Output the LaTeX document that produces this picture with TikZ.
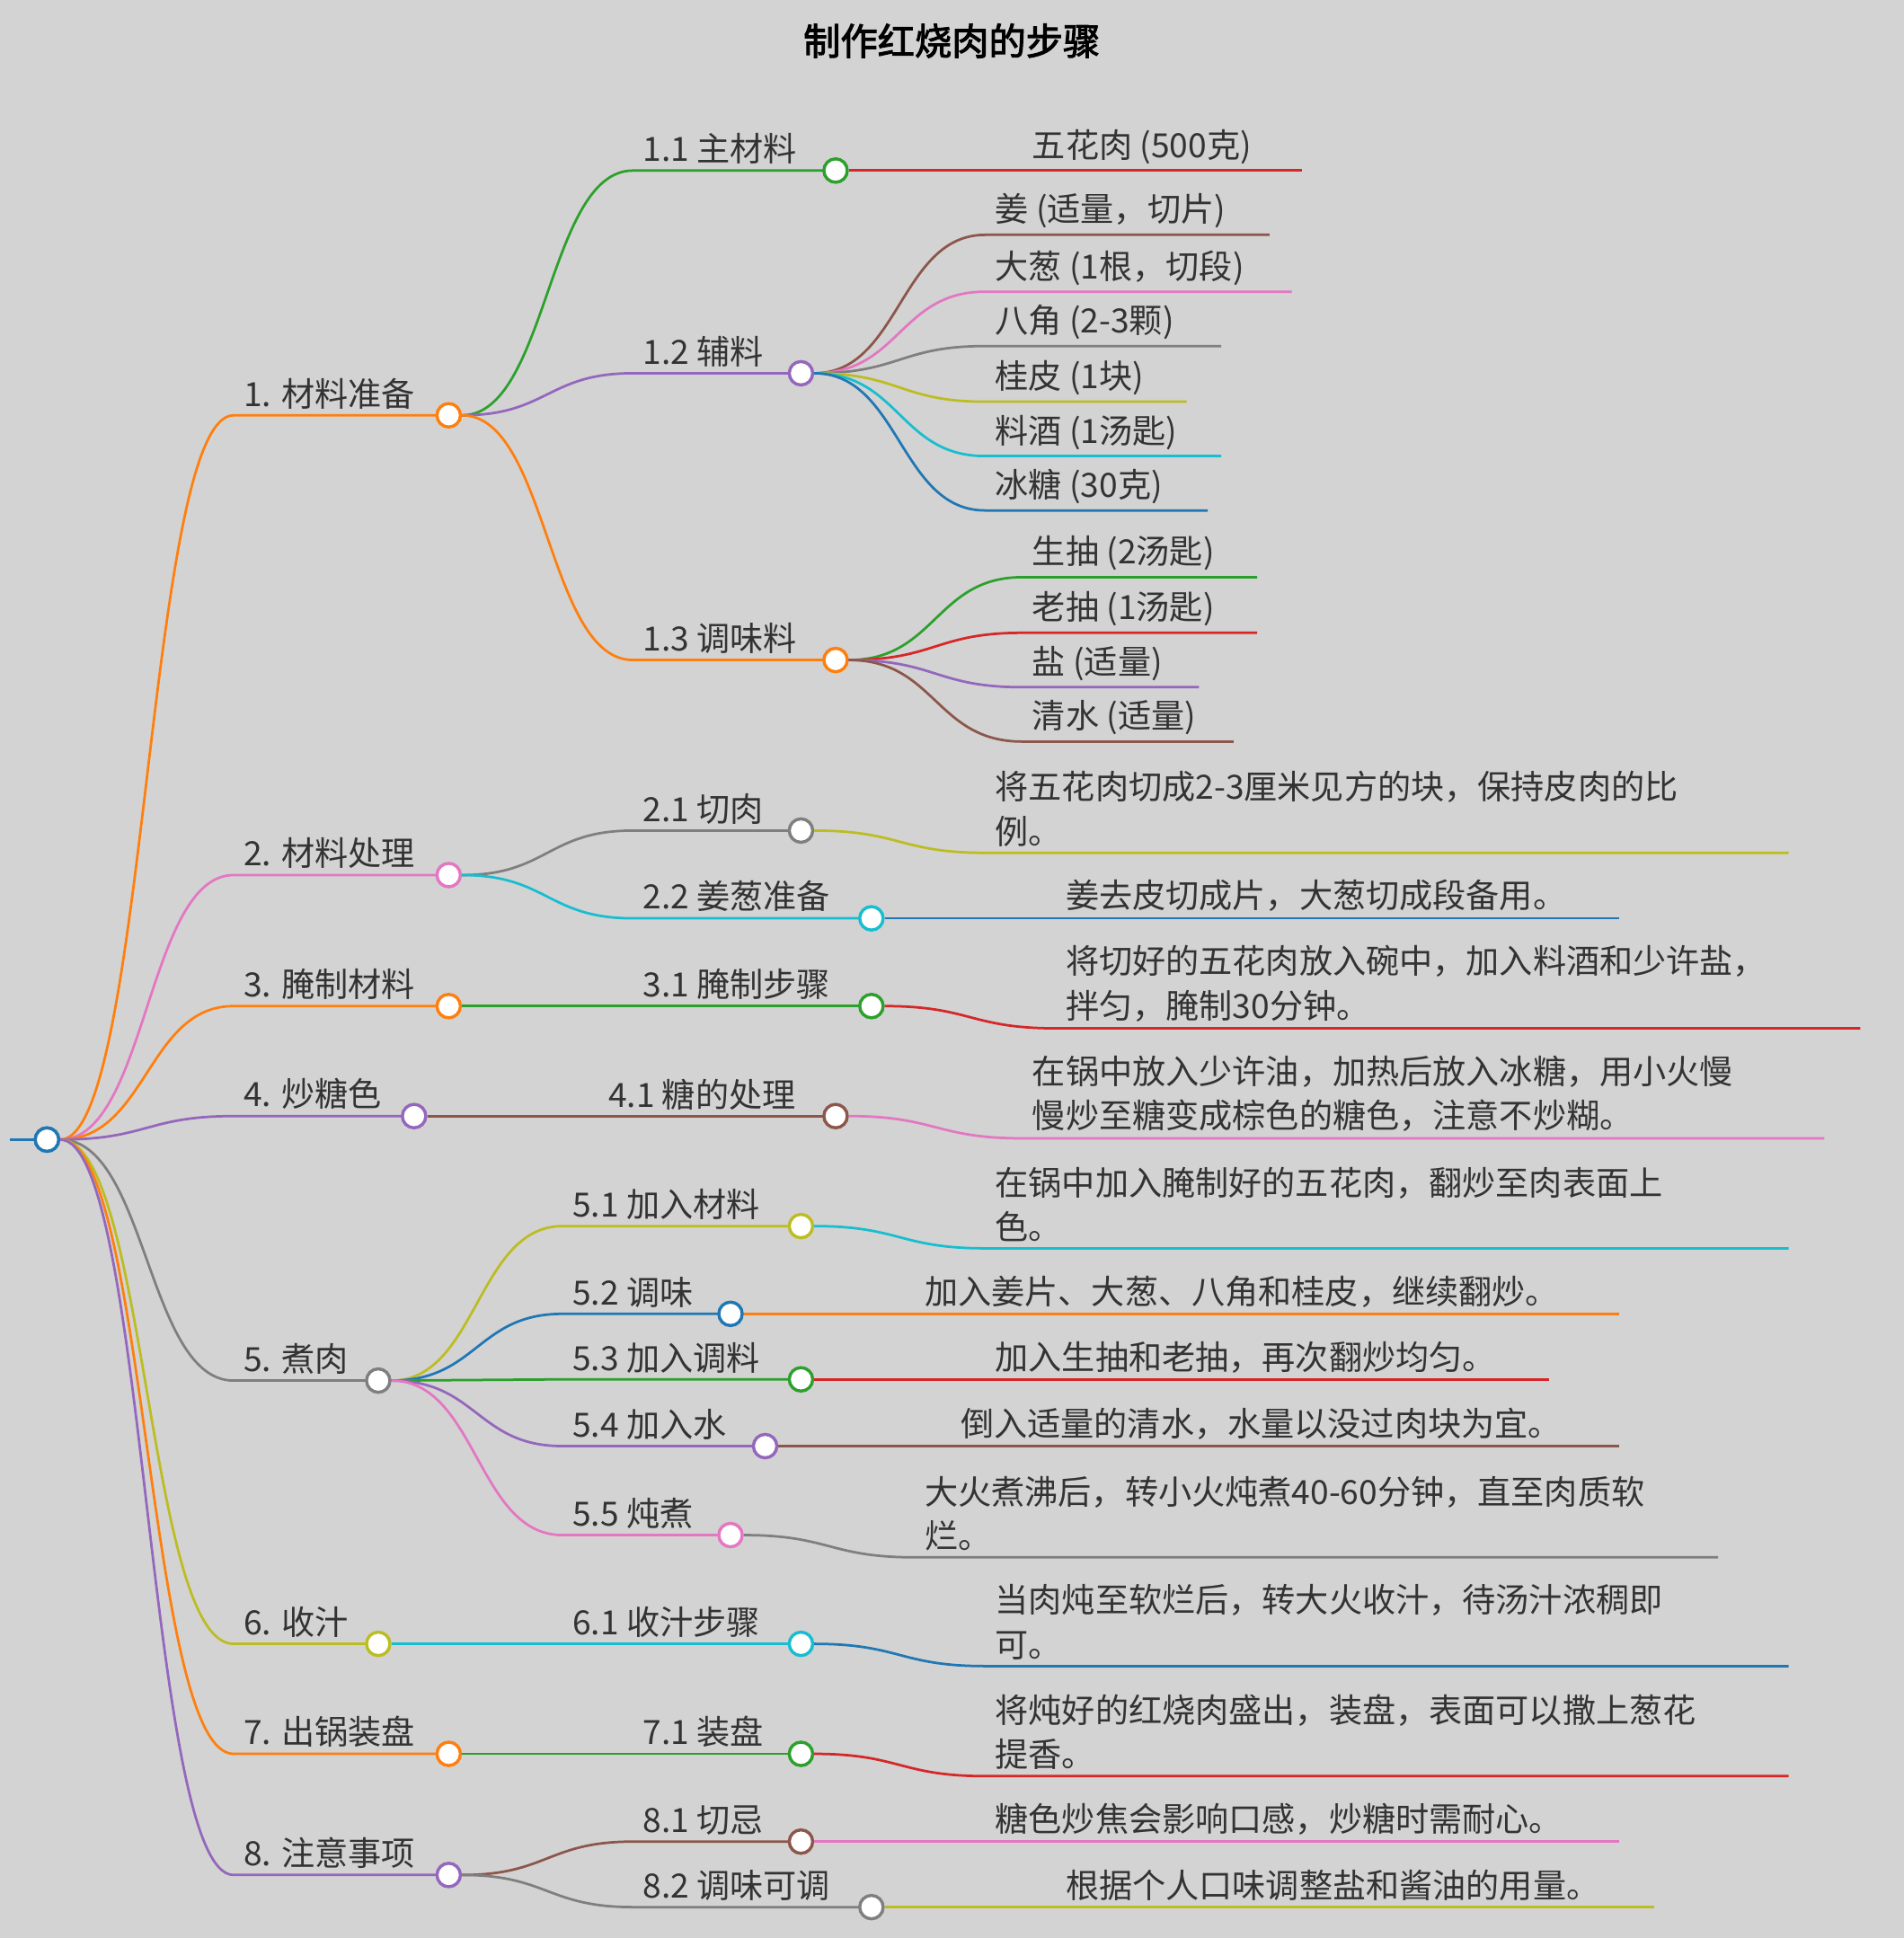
\documentclass[tikz,border=0pt]{standalone}
\usepackage{fontspec}
\setmainfont{Noto Sans CJK SC}[AutoFakeBold=2.5]
\usetikzlibrary{calc}
\definecolor{cO}{HTML}{FF7F0E}\definecolor{cP}{HTML}{E377C2}\definecolor{cG}{HTML}{7F7F7F}
\definecolor{cU}{HTML}{9467BD}\definecolor{cN}{HTML}{2CA02C}\definecolor{cR}{HTML}{D62728}
\definecolor{cB}{HTML}{8C564B}\definecolor{cY}{HTML}{BCBD22}\definecolor{cC}{HTML}{17BECF}
\definecolor{cL}{HTML}{1F77B4}\definecolor{bg}{HTML}{D3D3D3}\definecolor{tx}{HTML}{333333}
\tikzset{edge/.style={line width=2pt},
 dot/.style={circle,draw=#1,fill=white,line width=2.5pt,minimum size=19pt,inner sep=0pt},
 lab/.style={anchor=south west,inner sep=0pt,text=tx,align=left,font=\fontsize{27}{36}\selectfont}}
% branch: parent, name, text x, y, circle x, color, text
\newcommand\br[7]{%
 \coordinate (#2s) at (#3-8,#4);
 \coordinate (#2w) at (#5-10,#4);
 \draw[edge,#6] let \p1=(#1.east),\p2=(#2s) in (\p1) .. controls (\x1/2+\x2/2,\y1) and (\x1/2+\x2/2,\y2) .. (\p2) -- (#2w);
 \node[dot=#6] (#2) at (#5,#4) {};
 \node[lab] (#2t) at (#3,#4-5) {#7};}
% leaf: parent, name, text x, y, end x, color, text
\newcommand\lf[7]{%
 \coordinate (#2s) at (#3-8,#4);
 \coordinate (#2e) at (#5,#4);
 \draw[edge,#6] let \p1=(#1.east),\p2=(#2s) in (\p1) .. controls (\x1/2+\x2/2,\y1) and (\x1/2+\x2/2,\y2) .. (\p2) -- (#2e);
 \node[lab] (#2t) at (#3,#4-5) {#7};}
\begin{document}
\begin{tikzpicture}[x=1pt,y=-1pt]
\fill[bg] (0,0) rectangle (1540,1568);
\useasboundingbox (0,0) rectangle (1540,1568);
\node[text=black,font=\fontsize{30}{36}\selectfont\bfseries] (title) at (770,33) {制作红烧肉的步骤};
\coordinate (r0) at (8,922);
\draw[edge,cL] (r0) -- (28,922);
\node[dot=cL] (root) at (38,922) {};
% level 1
\br{root}{a}{197}{336}{363}{cO}{1. 材料准备}
\br{root}{b}{197}{708}{363}{cP}{2. 材料处理}
\br{root}{c}{197}{814}{363}{cO}{3. 腌制材料}
\br{root}{d}{197}{903}{335}{cU}{4. 炒糖色}
\br{root}{e}{197}{1117}{306}{cG}{5. 煮肉}
\br{root}{f}{197}{1330}{306}{cY}{6. 收汁}
\br{root}{g}{197}{1419}{363}{cO}{7. 出锅装盘}
\br{root}{h}{197}{1517}{363}{cU}{8. 注意事项}
\node[dot=cL] at (root) {};
% level 2
\br{a}{a1}{520}{138}{676}{cN}{1.1 主材料}
\br{a}{a2}{520}{302}{648}{cU}{1.2 辅料}
\br{a}{a3}{520}{534}{676}{cO}{1.3 调味料}
\br{b}{b1}{520}{672}{648}{cG}{2.1 切肉}
\br{b}{b2}{520}{743}{705}{cC}{2.2 姜葱准备}
\br{c}{c1}{520}{814}{705}{cN}{3.1 腌制步骤}
\br{d}{d1}{492}{903}{676}{cB}{4.1 糖的处理}
\br{e}{e1}{463}{992}{648}{cY}{5.1 加入材料}
\br{e}{e2}{463}{1063}{591}{cL}{5.2 调味}
\br{e}{e3}{463}{1116}{648}{cN}{5.3 加入调料}
\br{e}{e4}{463}{1170}{619}{cU}{5.4 加入水}
\br{e}{e5}{463}{1242}{591}{cP}{5.5 炖煮}
\br{f}{f1}{463}{1330}{648}{cC}{6.1 收汁步骤}
\br{g}{g1}{520}{1419}{648}{cN}{7.1 装盘}
\br{h}{h1}{520}{1490}{648}{cB}{8.1 切忌}
\br{h}{h2}{520}{1543}{705}{cG}{8.2 调味可调}
% leaves
\lf{a1}{l11}{835}{138}{1053}{cR}{五花肉 (500克)}
\lf{a2}{l21}{805}{190}{1027}{cB}{姜 (适量，切片)}
\lf{a2}{l22}{805}{236}{1045}{cP}{大葱 (1根，切段)}
\lf{a2}{l23}{805}{280}{988}{cG}{八角 (2-3颗)}
\lf{a2}{l24}{805}{325}{960}{cY}{桂皮 (1块)}
\lf{a2}{l25}{805}{369}{988}{cC}{料酒 (1汤匙)}
\lf{a2}{l26}{805}{413}{977}{cL}{冰糖 (30克)}
\lf{a3}{l31}{835}{467}{1017}{cN}{生抽 (2汤匙)}
\lf{a3}{l32}{835}{512}{1017}{cR}{老抽 (1汤匙)}
\lf{a3}{l33}{835}{556}{970}{cU}{盐 (适量)}
\lf{a3}{l34}{835}{600}{998}{cB}{清水 (适量)}
\lf{b1}{lb1}{805}{690}{1447}{cY}{将五花肉切成2-3厘米见方的块，保持皮肉的比\\例。}
\lf{b2}{lb2}{862}{743}{1310}{cL}{姜去皮切成片，大葱切成段备用。}
\lf{c1}{lc1}{862}{832}{1505}{cR}{将切好的五花肉放入碗中，加入料酒和少许盐，\\拌匀，腌制30分钟。}
\lf{d1}{ld1}{835}{921}{1476}{cP}{在锅中放入少许油，加热后放入冰糖，用小火慢\\慢炒至糖变成棕色的糖色，注意不炒糊。}
\lf{e1}{le1}{805}{1010}{1447}{cC}{在锅中加入腌制好的五花肉，翻炒至肉表面上\\色。}
\lf{e2}{le2}{748}{1063}{1310}{cO}{加入姜片、大葱、八角和桂皮，继续翻炒。}
\lf{e3}{le3}{805}{1116}{1253}{cR}{加入生抽和老抽，再次翻炒均匀。}
\lf{e4}{le4}{777}{1170}{1310}{cB}{倒入适量的清水，水量以没过肉块为宜。}
\lf{e5}{le5}{748}{1260}{1390}{cG}{大火煮沸后，转小火炖煮40-60分钟，直至肉质软\\烂。}
\lf{f1}{lf1}{805}{1348}{1447}{cL}{当肉炖至软烂后，转大火收汁，待汤汁浓稠即\\可。}
\lf{g1}{lg1}{805}{1437}{1447}{cR}{将炖好的红烧肉盛出，装盘，表面可以撒上葱花\\提香。}
\lf{h1}{lh1}{805}{1490}{1310}{cP}{糖色炒焦会影响口感，炒糖时需耐心。}
\lf{h2}{lh2}{862}{1543}{1338}{cY}{根据个人口味调整盐和酱油的用量。}
\end{tikzpicture}
\end{document}
